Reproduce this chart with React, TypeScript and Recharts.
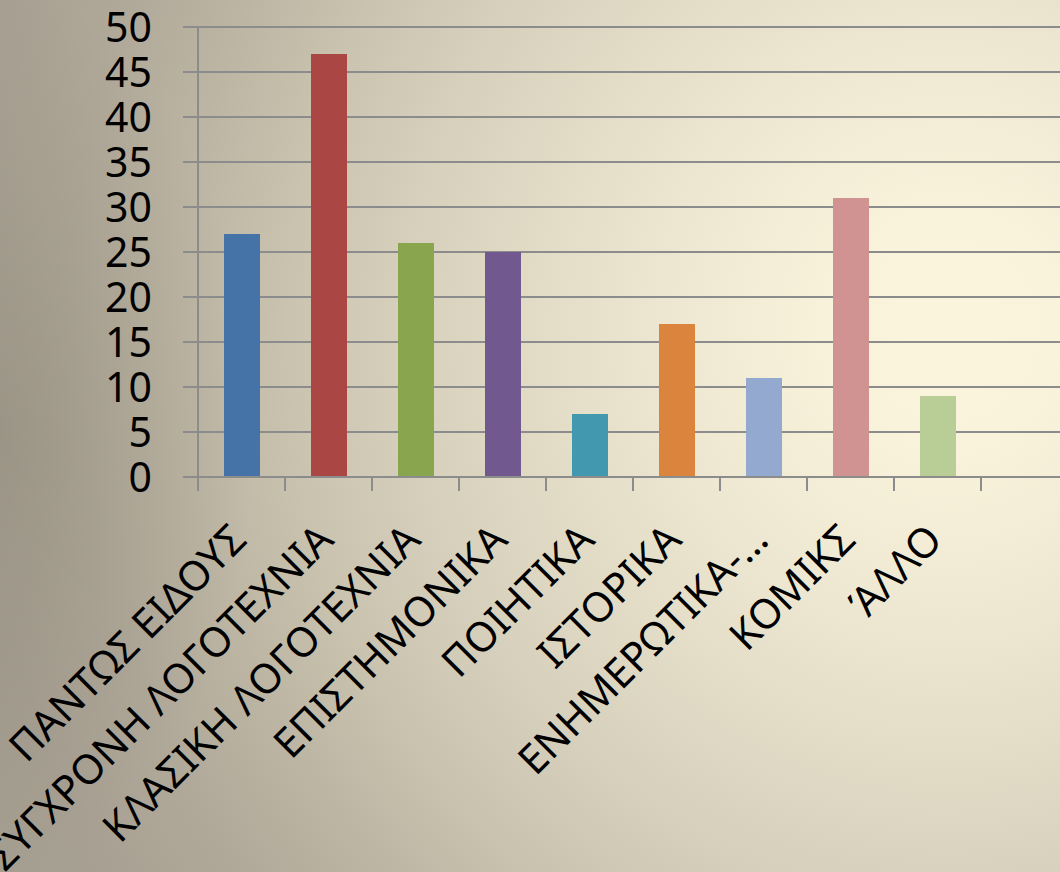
import React from 'react';
import { BarChart, Bar, Cell, XAxis, YAxis, CartesianGrid } from 'recharts';

// book categories (last slot is the empty one the plot runs into)
const categories = [
  'ΠΑΝΤΩΣ ΕΙΔΟΥΣ',
  'ΣΥΓΧΡΟΝΗ ΛΟΓΟΤΕΧΝΙΑ',
  'ΚΛΑΣΙΚΗ ΛΟΓΟΤΕΧΝΙΑ',
  'ΕΠΙΣΤΗΜΟΝΙΚΑ',
  'ΠΟΙΗΤΙΚΑ',
  'ΙΣΤΟΡΙΚΑ',
  'ΕΝΗΜΕΡΩΤΙΚΑ-…',
  'ΚΟΜΙΚΣ',
  'ΆΛΛΟ',
  ''
];
const counts = [27, 47, 26, 25, 7, 17, 11, 31, 9, null];
const barColors = [
  '#4572A7',
  '#AA4643',
  '#89A54E',
  '#71588F',
  '#4198AF',
  '#DB843D',
  '#93A9CF',
  '#D19392',
  '#B9CD96',
  '#4572A7'
];
const yTicks = [0, 5, 10, 15, 20, 25, 30, 35, 40, 45, 50];

const data = categories.map((name, i) => ({ name, value: counts[i] }));

const CHART_W = 1068;
const CHART_H = 872;
const AXIS_W = 198;
const BAND = (CHART_W - AXIS_W) / categories.length;
const GRID = '#8c8c8c';
const FONT = '"Noto Sans", sans-serif';

const BACKGROUND = [
  'radial-gradient(ellipse 250px 450px at 0% 50%, rgba(120,114,100,0.3) 0%, rgba(120,114,100,0) 100%)',
  'radial-gradient(ellipse 1100px 1150px at 950px 330px, #faf4dd 0%, #f9f3dc 10%, #eee8d2 25%, #e2dcc7 38%, #d6cfbb 50%, #cac3af 60%, #bcb5a3 70%, #b0a99a 80%, #a8a193 90%, #a49e90 100%)'
].join(', ');

function CategoryTick({ x, y, payload }: any) {
  const left = x - BAND / 2;
  const tx = x + 7;
  const ty = y + 65;
  return (
    <g>
      <line x1={left} x2={left} y1={y} y2={y + 14} stroke={GRID} strokeWidth={2} />
      <text
        x={tx}
        y={ty}
        textAnchor="end"
        fontSize={41}
        fontFamily={FONT}
        fill="#000"
        transform={`rotate(-45 ${tx} ${ty})`}
      >
        {payload.value}
      </text>
    </g>
  );
}

export default function App() {
  return (
    <div
      style={{
        position: 'absolute',
        left: 0,
        top: 0,
        width: 1060,
        height: 872,
        overflow: 'hidden',
        background: BACKGROUND
      }}
    >
      <BarChart
        width={CHART_W}
        height={CHART_H}
        data={data}
        margin={{ top: 27, right: 0, left: 0, bottom: 0 }}
        barSize={36}
      >
        <CartesianGrid vertical={false} stroke={GRID} strokeWidth={2} />
        <XAxis
          dataKey="name"
          height={395}
          interval={0}
          tickLine={false}
          tickSize={0}
          tickMargin={0}
          axisLine={{ stroke: GRID, strokeWidth: 2 }}
          tick={<CategoryTick />}
        />
        <YAxis
          width={AXIS_W}
          domain={[0, 50]}
          ticks={yTicks}
          interval={0}
          tickSize={15}
          tickMargin={31}
          axisLine={{ stroke: GRID, strokeWidth: 2 }}
          tickLine={{ stroke: GRID, strokeWidth: 2 }}
          tick={{ fontSize: 41, fontFamily: FONT, fill: '#000' }}
        />
        <Bar dataKey="value" isAnimationActive={false}>
          {data.map((d, i) => (
            <Cell key={d.name + i} fill={barColors[i]} />
          ))}
        </Bar>
      </BarChart>
    </div>
  );
}
